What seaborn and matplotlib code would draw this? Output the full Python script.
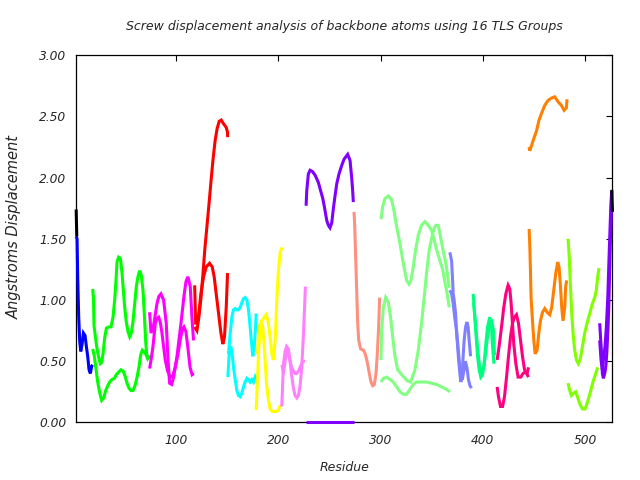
import matplotlib
matplotlib.use("Agg")
import matplotlib.pyplot as plt
import seaborn as sns
import pandas as pd

# ---------------- data (residue, screw displacement in Angstroms) ----------------
black_l_res = [2.0, 2.6]
black_l_val = [1.74, 1.52]
black_r_res = [526.3, 527.0]
black_r_val = [1.90, 1.72]

blue_res = [2.0, 2.9, 3.5, 4.5, 5.5, 6.5, 7.8, 9.1, 10.7, 12.0, 13.3, 14.6, 15.9, 17.2, 18.2]
blue_val = [1.52, 1.50, 1.19, 0.86, 0.66, 0.58, 0.64, 0.73, 0.71, 0.62, 0.54, 0.43, 0.40, 0.46, 0.47]

green_a_res = [18.2, 18.9, 19.5, 20.8, 22.1, 23.8, 25.7, 27.0, 28.3, 29.9, 31.6, 33.9, 36.1, 38.1, 39.7,
               41.0, 42.0, 43.6, 45.3, 46.9, 48.2, 49.5, 51.1, 52.8, 54.4, 56.0, 57.6, 59.3, 60.9, 62.5,
               64.2, 65.8, 67.4, 68.7, 70.0, 71.0, 72.3, 73.3]
green_a_val = [1.09, 1.02, 0.79, 0.70, 0.62, 0.54, 0.48, 0.49, 0.56, 0.69, 0.77, 0.78, 0.78, 0.86, 1.00,
               1.16, 1.31, 1.35, 1.34, 1.22, 1.08, 0.94, 0.82, 0.74, 0.70, 0.73, 0.82, 0.97, 1.11, 1.19,
               1.24, 1.20, 1.08, 0.89, 0.67, 0.56, 0.52, 0.55]
green_b_res = [18.2, 19.8, 21.5, 23.1, 25.1, 27.0, 29.0, 30.9, 32.9, 34.8, 37.1, 39.4, 41.3, 43.6, 45.9,
               47.9, 49.8, 51.8, 53.7, 55.7, 57.6, 59.6, 61.6, 63.5, 65.1, 66.8, 68.1, 70.0, 72.0, 73.6]
green_b_val = [0.60, 0.54, 0.43, 0.33, 0.24, 0.18, 0.20, 0.26, 0.30, 0.33, 0.35, 0.36, 0.39, 0.41, 0.43,
               0.42, 0.38, 0.32, 0.28, 0.26, 0.26, 0.30, 0.37, 0.45, 0.55, 0.59, 0.58, 0.56, 0.52, 0.54]

magenta_a_res = [73.9, 75.3, 78.0, 81.1, 83.0, 85.0, 87.6, 90.2, 92.0, 93.5, 95.5, 97.4, 100.7, 104.6,
                 107.8, 109.5, 111.4, 113.7, 115.3, 116.9]
magenta_a_val = [0.90, 0.73, 0.80, 0.97, 1.03, 1.05, 1.00, 0.81, 0.50, 0.32, 0.31, 0.37, 0.54, 0.81,
                 1.05, 1.15, 1.19, 1.11, 0.86, 0.67]
magenta_b_res = [73.9, 75.5, 77.2, 79.5, 81.0, 82.7, 84.3, 86.0, 87.6, 89.2, 91.5, 94.0, 96.5, 99.0,
                 101.5, 104.0, 106.0, 107.5, 109.5, 111.5, 113.5, 115.5, 117.0]
magenta_b_val = [0.44, 0.52, 0.62, 0.81, 0.85, 0.86, 0.82, 0.73, 0.62, 0.51, 0.42, 0.37, 0.38, 0.45,
                 0.55, 0.68, 0.76, 0.78, 0.74, 0.60, 0.45, 0.39, 0.40]

red_a_res = [118.0, 120.2, 122.0, 124.0, 126.0, 128.0, 130.0, 132.0, 134.0, 136.0, 138.0, 140.0, 142.0,
             144.0, 146.2, 148.9, 150.2, 150.3]
red_a_val = [0.78, 0.75, 0.85, 1.00, 1.20, 1.42, 1.60, 1.78, 1.97, 2.15, 2.30, 2.40, 2.46,
             2.47, 2.44, 2.41, 2.37, 2.33]
red_b_res = [118.0, 119.0, 121.8, 124.1, 126.7, 129.3, 132.6, 135.2, 137.1, 139.1, 141.4, 143.7, 145.6,
             147.2, 148.9, 150.2]
red_b_val = [1.12, 0.80, 0.87, 1.05, 1.19, 1.27, 1.30, 1.27, 1.19, 1.05, 0.89, 0.73, 0.64,
             0.70, 0.94, 1.22]

cyan_a_res = [151.1, 152.8, 154.4, 156.0, 157.7, 159.3, 160.9, 162.6, 164.2, 165.8, 167.4, 169.1, 170.7,
              172.3, 174.0, 174.9, 176.3, 177.6, 178.2]
cyan_a_val = [0.56, 0.73, 0.86, 0.92, 0.93, 0.92, 0.92, 0.94, 0.98, 1.01, 1.02, 1.00, 0.92,
              0.78, 0.62, 0.54, 0.62, 0.78, 0.89]
cyan_b_res = [150.5, 151.8, 153.4, 154.7, 156.0, 157.7, 159.3, 160.9, 162.6, 164.2, 165.8, 167.4, 169.1,
              170.7, 172.3, 174.0, 175.6, 177.2, 178.2]
cyan_b_val = [0.37, 0.56, 0.62, 0.56, 0.45, 0.35, 0.26, 0.22, 0.21, 0.24, 0.29, 0.33, 0.36,
              0.35, 0.33, 0.35, 0.33, 0.37, 0.35]

yellow_a_res = [178.2, 179.5, 180.8, 182.1, 183.4, 184.7, 186.0, 187.3, 188.6, 190.3, 191.9, 193.8,
                196.1, 198.0, 200.0, 201.5]
yellow_a_val = [0.10, 0.35, 0.62, 0.75, 0.81, 0.78, 0.64, 0.45, 0.29, 0.18, 0.11, 0.09,
                0.09, 0.09, 0.10, 0.14]
yellow_b_res = [179.5, 180.8, 182.8, 185.4, 188.0, 189.9, 191.9, 193.5, 195.1, 196.8, 198.4, 200.0,
                201.7, 203.6]
yellow_b_val = [0.56, 0.77, 0.82, 0.85, 0.88, 0.82, 0.70, 0.56, 0.51, 0.67, 1.00, 1.24,
                1.39, 1.43]

pink_a_res = [203.3, 204.3, 205.0, 206.5, 208.0, 209.8, 211.4, 213.0, 214.7, 216.3, 218.0, 219.6,
              221.2, 222.8, 224.4, 225.4, 226.4]
pink_a_val = [0.13, 0.35, 0.48, 0.58, 0.62, 0.60, 0.50, 0.38, 0.28, 0.22, 0.20, 0.22,
              0.30, 0.45, 0.70, 0.90, 1.11]
pink_b_res = [203.5, 205.0, 206.5, 208.0, 209.8, 211.4, 213.0, 214.7, 216.3, 218.0, 219.6, 221.2,
              222.8, 224.4, 226.1]
pink_b_val = [0.47, 0.40, 0.50, 0.58, 0.56, 0.50, 0.45, 0.42, 0.40, 0.40, 0.42, 0.45,
              0.48, 0.50, 0.50]

purple_a_res = [227.1, 227.7, 229.3, 231.0, 233.2, 235.9, 239.1, 241.4, 243.4, 245.0, 247.3, 248.9,
                250.5, 252.2, 253.8, 255.4, 257.1, 259.3, 262.0, 264.2, 267.8, 270.1, 271.7, 272.7, 273.3]
purple_a_val = [1.77, 1.89, 2.03, 2.06, 2.05, 2.02, 1.96, 1.89, 1.83, 1.76, 1.65, 1.61,
                1.59, 1.63, 1.75, 1.85, 1.95, 2.03, 2.10, 2.15, 2.19, 2.14, 2.00, 1.89, 1.80]
purple_b_res = [227.0, 274.0]
purple_b_val = [0.0, 0.0]

salmon_res = [274.0, 274.7, 275.6, 276.6, 277.6, 278.6, 280.5, 283.1, 285.0, 287.0, 289.0, 290.6,
              292.3, 293.9, 295.5, 296.8, 298.1, 299.1]
salmon_val = [1.72, 1.60, 1.35, 1.08, 0.81, 0.67, 0.60, 0.59, 0.56, 0.49, 0.40, 0.33,
              0.30, 0.31, 0.40, 0.56, 0.78, 1.02]

lgreen_a_res = [300.4, 302.0, 304.3, 307.6, 310.8, 313.1, 315.7, 318.3, 320.6, 322.9, 325.5, 327.8,
                329.7, 332.0, 334.3, 336.9, 340.1, 343.4, 346.7, 349.9, 352.5, 354.8, 358.1, 360.7,
                362.9, 365.2, 367.2]
lgreen_a_val = [1.66, 1.76, 1.83, 1.85, 1.82, 1.73, 1.60, 1.49, 1.38, 1.27, 1.16, 1.13,
                1.16, 1.27, 1.41, 1.53, 1.61, 1.64, 1.61, 1.57, 1.49, 1.41, 1.32, 1.25,
                1.15, 1.05, 0.94]
lgreen_b_res = [300.4, 301.0, 302.7, 305.0, 307.6, 309.8, 311.8, 314.1, 316.7, 319.6, 322.9, 326.1,
                329.4, 333.6, 336.9, 340.1, 342.4, 345.0, 347.6, 349.9, 352.2, 354.1, 356.4, 358.1,
                359.7, 361.3, 363.9, 365.6, 367.2]
lgreen_b_val = [0.51, 0.75, 0.94, 1.02, 0.98, 0.86, 0.70, 0.54, 0.43, 0.40, 0.37, 0.34,
                0.33, 0.43, 0.59, 0.81, 1.00, 1.22, 1.41, 1.50, 1.58, 1.61, 1.61, 1.54,
                1.47, 1.40, 1.30, 1.20, 1.10]
lgreen_c_res = [300.4, 302.7, 305.9, 309.2, 312.4, 315.7, 319.0, 322.2, 325.5, 328.7, 332.0, 335.3,
                340.1, 345.0, 349.9, 354.8, 359.7, 364.6, 367.8]
lgreen_c_val = [0.33, 0.36, 0.37, 0.35, 0.33, 0.29, 0.25, 0.23, 0.23, 0.27, 0.31, 0.33,
                0.33, 0.33, 0.32, 0.31, 0.29, 0.27, 0.25]

slate_a_res = [367.8, 369.5, 370.5, 371.1, 372.0, 373.4, 374.4, 375.4, 376.4, 377.6, 378.6, 379.9,
               380.8, 381.8, 383.2, 384.5, 385.7, 386.7, 388.1]
slate_a_val = [1.39, 1.32, 1.16, 1.05, 1.00, 0.89, 0.73, 0.62, 0.51, 0.40, 0.33, 0.40,
               0.54, 0.67, 0.78, 0.82, 0.78, 0.67, 0.54]
slate_b_res = [367.8, 369.5, 371.1, 372.7, 374.4, 376.0, 377.0, 378.6, 380.0, 381.5, 383.0, 384.5,
               386.0, 387.5, 389.0]
slate_b_val = [1.08, 1.05, 0.97, 0.85, 0.75, 0.60, 0.50, 0.40, 0.35, 0.42, 0.50, 0.45,
               0.35, 0.30, 0.28]

spring_a_res = [390.6, 391.6, 393.3, 394.9, 396.5, 398.1, 399.8, 401.4, 403.0, 404.7, 406.9, 408.6,
                409.6, 410.9]
spring_a_val = [1.05, 0.94, 0.73, 0.54, 0.43, 0.37, 0.39, 0.48, 0.64, 0.78, 0.86, 0.78,
                0.62, 0.48]
spring_b_res = [391.0, 393.0, 395.0, 397.0, 399.0, 401.0, 403.0, 405.0, 407.0, 409.0, 410.5, 411.5]
spring_b_val = [0.98, 0.80, 0.60, 0.45, 0.40, 0.45, 0.58, 0.72, 0.80, 0.82, 0.75, 0.55]

dpink_a_res = [414.1, 416.0, 418.4, 420.6, 422.6, 424.8, 426.5, 427.8, 429.1, 430.4, 432.4, 434.6,
               437.3, 439.5, 441.5, 443.4, 444.8]
dpink_a_val = [0.51, 0.62, 0.78, 0.94, 1.05, 1.12, 1.09, 0.97, 0.81, 0.64, 0.48, 0.37,
               0.37, 0.40, 0.41, 0.40, 0.45]
dpink_b_res = [414.1, 415.4, 417.4, 419.4, 421.3, 423.3, 425.2, 427.2, 429.1, 431.1, 433.0, 435.0,
               437.0, 438.9, 440.9, 442.8, 444.8]
dpink_b_val = [0.29, 0.21, 0.13, 0.13, 0.21, 0.37, 0.54, 0.70, 0.81, 0.86, 0.88, 0.81,
               0.67, 0.54, 0.43, 0.40, 0.37]

orange_a_res = [445.4, 446.0, 447.7, 450.0, 452.6, 455.1, 457.8, 460.7, 463.9, 467.3, 470.5, 473.7,
                477.0, 479.6, 481.9, 482.5]
orange_a_val = [2.25, 2.22, 2.26, 2.32, 2.38, 2.47, 2.53, 2.59, 2.63, 2.65, 2.66, 2.62,
                2.59, 2.55, 2.57, 2.64]
orange_b_res = [445.4, 446.0, 446.7, 447.3, 448.7, 450.0, 451.3, 453.2, 454.9, 456.5, 458.5, 460.7,
                463.0, 465.6, 467.5, 469.5, 471.5, 473.4, 474.7, 476.1, 477.3, 478.6, 480.3, 481.2, 482.2]
orange_b_val = [1.58, 1.46, 1.24, 1.02, 0.83, 0.67, 0.56, 0.59, 0.73, 0.83, 0.90, 0.93,
                0.90, 0.88, 0.94, 1.08, 1.22, 1.31, 1.27, 1.11, 0.94, 0.83, 0.94, 1.11, 1.16]

chart_a_res = [483.5, 484.5, 485.9, 487.1, 488.4, 490.0, 491.7, 493.6, 495.6, 497.6, 499.8, 502.1,
               504.7, 507.3, 509.6, 511.2, 512.5, 513.8]
chart_a_val = [1.50, 1.38, 1.11, 0.89, 0.73, 0.59, 0.51, 0.48, 0.52, 0.62, 0.73, 0.81,
               0.89, 0.97, 1.02, 1.08, 1.19, 1.26]
chart_b_res = [483.5, 485.2, 486.8, 489.0, 491.0, 492.7, 495.0, 497.6, 500.2, 502.7, 505.4, 507.9,
               510.6, 512.5]
chart_b_val = [0.32, 0.26, 0.22, 0.24, 0.25, 0.21, 0.15, 0.11, 0.11, 0.17, 0.25, 0.33,
               0.40, 0.45]

violet_a_res = [514.5, 515.5, 516.5, 517.1, 518.1, 519.4, 520.4, 521.4, 522.4, 523.3, 524.0, 524.6,
                525.6, 526.2]
violet_a_val = [0.81, 0.67, 0.54, 0.40, 0.36, 0.40, 0.45, 0.56, 0.73, 0.92, 1.16, 1.38,
                1.65, 1.89]
violet_b_res = [514.5, 515.8, 517.1, 518.4, 519.7, 521.0, 522.4, 523.3, 524.3, 525.3, 526.2]
violet_b_val = [0.67, 0.51, 0.43, 0.54, 0.62, 0.78, 1.02, 1.26, 1.51, 1.75, 1.89]

x_ticks = [100, 200, 300, 400, 500]
y_ticks = [0.0, 0.5, 1.0, 1.5, 2.0, 2.5, 3.0]

curves = [
    ("blue", "#0000ff", blue_res, blue_val),
    ("green_a", "#00ff00", green_a_res, green_a_val),
    ("green_b", "#00ff00", green_b_res, green_b_val),
    ("magenta_a", "#ff00ff", magenta_a_res, magenta_a_val),
    ("magenta_b", "#ff00ff", magenta_b_res, magenta_b_val),
    ("red_a", "#ff0000", red_a_res, red_a_val),
    ("red_b", "#ff0000", red_b_res, red_b_val),
    ("cyan_a", "#00ffff", cyan_a_res, cyan_a_val),
    ("cyan_b", "#00ffff", cyan_b_res, cyan_b_val),
    ("yellow_a", "#ffff00", yellow_a_res, yellow_a_val),
    ("yellow_b", "#ffff00", yellow_b_res, yellow_b_val),
    ("pink_a", "#ff80ff", pink_a_res, pink_a_val),
    ("pink_b", "#ff80ff", pink_b_res, pink_b_val),
    ("purple_a", "#8000ff", purple_a_res, purple_a_val),
    ("purple_b", "#8000ff", purple_b_res, purple_b_val),
    ("salmon", "#ff9080", salmon_res, salmon_val),
    ("lgreen_a", "#80ff80", lgreen_a_res, lgreen_a_val),
    ("lgreen_b", "#80ff80", lgreen_b_res, lgreen_b_val),
    ("lgreen_c", "#80ff80", lgreen_c_res, lgreen_c_val),
    ("slate_a", "#8080ff", slate_a_res, slate_a_val),
    ("slate_b", "#8080ff", slate_b_res, slate_b_val),
    ("spring_a", "#00ff80", spring_a_res, spring_a_val),
    ("spring_b", "#00ff80", spring_b_res, spring_b_val),
    ("dpink_a", "#ff0080", dpink_a_res, dpink_a_val),
    ("dpink_b", "#ff0080", dpink_b_res, dpink_b_val),
    ("orange_a", "#ff8000", orange_a_res, orange_a_val),
    ("orange_b", "#ff8000", orange_b_res, orange_b_val),
    ("chart_a", "#80ff00", chart_a_res, chart_a_val),
    ("chart_b", "#80ff00", chart_b_res, chart_b_val),
    ("violet_a", "#8000ff", violet_a_res, violet_a_val),
    ("violet_b", "#8000ff", violet_b_res, violet_b_val),
    ("black_l", "#000000", black_l_res, black_l_val),
    ("black_r", "#000000", black_r_res, black_r_val),
]

rows = []
palette = {}
order = []
for name, color, rr, vv in curves:
    assert len(rr) == len(vv), name
    palette[name] = color
    order.append(name)
    for r, v in zip(rr, vv):
        rows.append({"residue": r, "value": v, "curve": name})
df = pd.DataFrame(rows)

# ---------------- drawing ----------------
sns.set_style("white")
plt.rcParams["font.family"] = ["DejaVu Sans"]

fig = plt.figure(figsize=(6.4, 4.8), dpi=100)
ax = fig.add_axes([0.119, 0.120, 0.838, 0.765])

sns.lineplot(data=df, x="residue", y="value", hue="curve", hue_order=order, units="curve",
             estimator=None, sort=False, palette=palette, legend=False,
             linewidth=2.2, ax=ax)
for i, ln in enumerate(ax.lines):
    ln.set_clip_on(False)
    ln.set_zorder(3 + i * 0.01)
    ln.set_solid_joinstyle("miter")
    ln.set_solid_capstyle("butt")

ax.set_xlim(2, 527)
ax.set_ylim(0, 3)
ax.set_xticks(x_ticks)
ax.set_yticks(y_ticks)
ax.set_xticklabels([str(t) for t in x_ticks], fontstyle="italic", fontsize=8.8)
ax.set_yticklabels([f"{t:.2f}" for t in y_ticks], fontstyle="italic", fontsize=8.8)
ax.tick_params(axis="both", which="both", direction="in", length=4, width=0.8,
               top=True, right=True, color="black")
ax.tick_params(axis="y", pad=7)
ax.tick_params(axis="x", pad=8)
for sp in ax.spines.values():
    sp.set_visible(True)
    sp.set_color("black")
    sp.set_linewidth(0.9)
ax.set_xlabel("")
ax.set_ylabel("")
ax.grid(False)

fig.text(0.538, 0.944, "Screw displacement analysis of backbone atoms using 16 TLS Groups",
         ha="center", va="center", fontstyle="italic", fontsize=9)
fig.text(0.538, 0.027, "Residue", ha="center", va="center", fontstyle="italic", fontsize=9)
fig.text(0.022, 0.527, "Angstroms Displacement", ha="center", va="center",
         rotation=90, fontstyle="italic", fontsize=10.5)

fig.savefig("out.png", dpi=100)
